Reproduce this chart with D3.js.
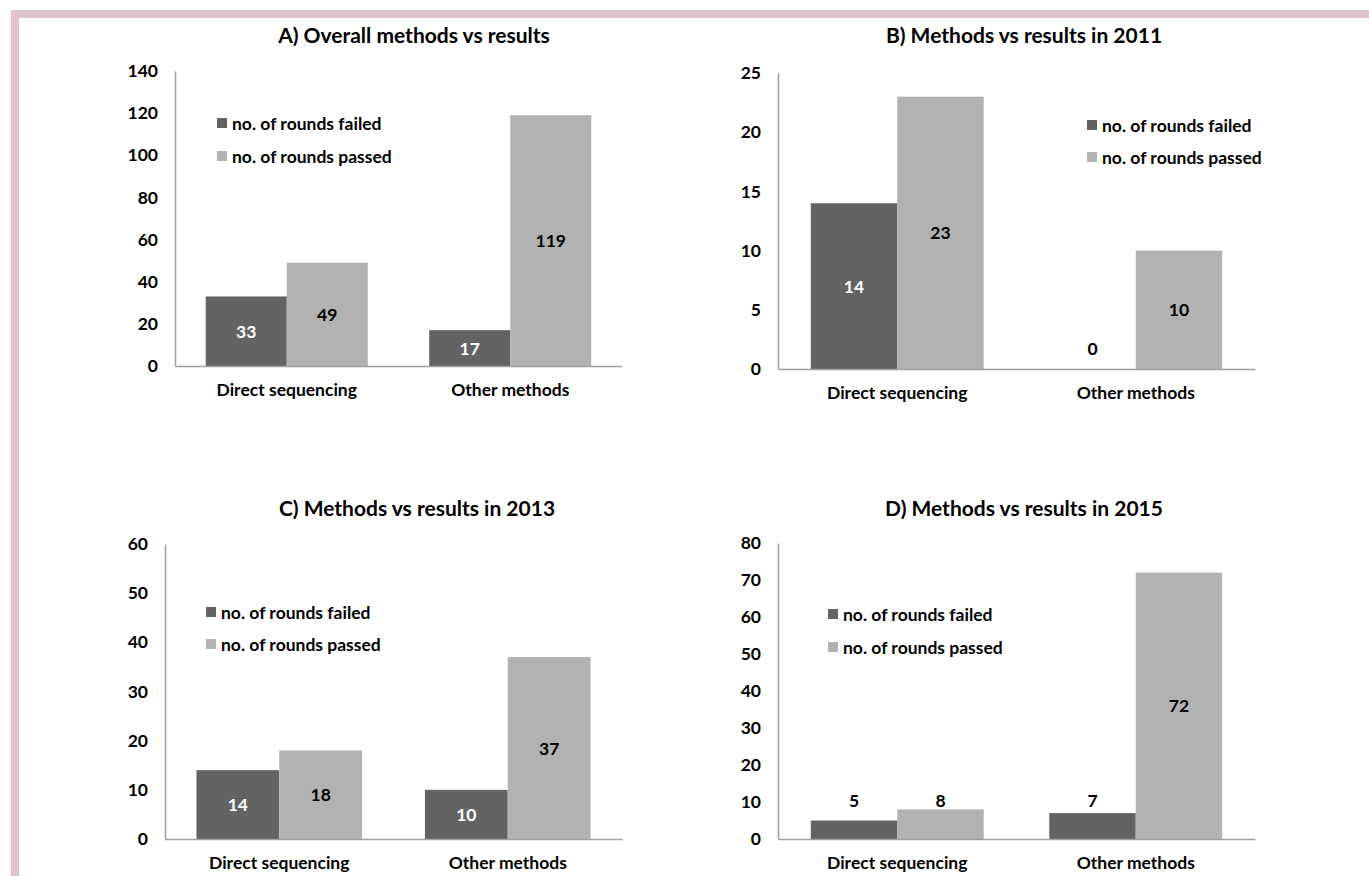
<!DOCTYPE html>
<html>
<head>
<meta charset="utf-8">
<script src="https://cdn.jsdelivr.net/npm/d3@7"></script>
<style>
  body { margin: 0; background: #fff; }
  svg text { font-family: Lato, "Open Sans", sans-serif; font-weight: bold; fill: #000; }
</style>
</head>
<body>
<div id="chart"></div>
<script>
// chart data
const categories = ["Direct sequencing", "Other methods"];
const seriesNames = ["no. of rounds failed", "no. of rounds passed"];
const titles = [
    "A) Overall methods vs results",
    "B) Methods vs results in 2011",
    "C) Methods vs results in 2013",
    "D) Methods vs results in 2015"
];
const failedA = [33, 17], passedA = [49, 119];
const failedB = [14, 0],  passedB = [23, 10];
const failedC = [14, 10], passedC = [18, 37];
const failedD = [5, 7],   passedD = [8, 72];
const yMaxes = [140, 25, 60, 80];
const ySteps = [20, 5, 10, 10];

const colors = ["#636363", "#b2b2b2"];
const fontSize = "17.5px";

// layout of each panel (pixels)
const panels = [
    {left: 175, right: 622,  top: 71,  bottom: 366, titleX: 414,  titleY: 34,  legX: 217,  legY: 123, legGap: 33},
    {left: 778, right: 1255, top: 73,  bottom: 369, titleX: 1024, titleY: 34,  legX: 1087, legY: 125, legGap: 32},
    {left: 165, right: 622,  top: 544, bottom: 839, titleX: 417,  titleY: 507, legX: 206,  legY: 612, legGap: 32},
    {left: 778, right: 1255, top: 543, bottom: 839, titleX: 1024, titleY: 507, legX: 828,  legY: 614, legGap: 33}
];
const series = [[failedA, passedA], [failedB, passedB], [failedC, passedC], [failedD, passedD]];

const svg = d3.select("#chart").append("svg")
    .attr("width", 1369)
    .attr("height", 876);

// pink frame on top and left
svg.append("rect").attr("x", 11).attr("y", 10).attr("width", 1358).attr("height", 8).attr("fill", "#dfc4cb");
svg.append("rect").attr("x", 11).attr("y", 10).attr("width", 8).attr("height", 866).attr("fill", "#dfc4cb");

panels.forEach((p, i) => drawPanel(p, i));

function drawPanel(p, i) {
    const [failed, passed] = series[i];
    const rows = categories.map((c, j) => ({cat: c, values: [failed[j], passed[j]]}));

    const x0 = d3.scaleBand().domain(categories)
        .range([p.left, p.right])
        .paddingInner(0.275).paddingOuter(0.1375);
    const x1 = d3.scaleBand().domain([0, 1]).range([0, x0.bandwidth()]);
    const y = d3.scaleLinear().domain([0, yMaxes[i]]).range([p.bottom, p.top]);

    const g = svg.append("g");

    g.append("text")
        .attr("x", p.titleX).attr("y", p.titleY)
        .attr("text-anchor", "middle")
        .attr("dominant-baseline", "central")
        .style("font-size", "21px")
        .text(titles[i]);

    // bars
    const grp = g.selectAll(".grp").data(rows).enter().append("g")
        .attr("transform", d => `translate(${x0(d.cat)},0)`);

    grp.selectAll("rect").data(d => d.values).enter().append("rect")
        .attr("x", (d, k) => x1(k))
        .attr("y", d => y(d))
        .attr("width", x1.bandwidth())
        .attr("height", d => y(0) - y(d))
        .attr("fill", (d, k) => colors[k]);

    // labels: centred in the bar when it fits, otherwise above
    const fits = v => y(0) - y(v) >= 32;
    const small = rows.flatMap(r => r.values).filter(v => !fits(v));
    const aboveBase = Math.min(y(d3.max(small) || 0) - 2, y(0) - 14);

    grp.selectAll(".lbl").data(d => d.values).enter().append("text")
        .attr("class", "lbl")
        .attr("x", (d, k) => x1(k) + x1.bandwidth() / 2)
        .attr("y", d => fits(d) ? (y(d) + y(0)) / 2 : aboveBase)
        .attr("dominant-baseline", d => fits(d) ? "central" : "auto")
        .attr("text-anchor", "middle")
        .style("font-size", fontSize)
        .style("fill", (d, k) => (fits(d) && k === 0) ? "#fff" : "#000")
        .text(d => d);

    // axes
    const yAxis = g.append("g")
        .attr("transform", `translate(${p.left},0)`)
        .call(d3.axisLeft(y).tickValues(d3.range(0, yMaxes[i] + 0.001, ySteps[i]))
            .tickSize(0).tickPadding(17));
    const xAxis = g.append("g")
        .attr("transform", `translate(0,${p.bottom})`)
        .call(d3.axisBottom(x0).tickSize(0).tickPadding(18));

    [yAxis, xAxis].forEach(a => {
        a.select(".domain").attr("stroke", "#a0a0a0").attr("stroke-width", 1.5);
        a.selectAll("text").style("font-size", fontSize).attr("fill", "#000");
    });

    // legend
    const leg = g.selectAll(".leg").data(seriesNames).enter().append("g")
        .attr("transform", (d, k) => `translate(${p.legX},${p.legY + k * p.legGap})`);
    leg.append("rect").attr("x", 0).attr("y", -5).attr("width", 10).attr("height", 10)
        .attr("fill", (d, k) => colors[k]);
    leg.append("text").attr("x", 15).attr("y", 0)
        .attr("dominant-baseline", "central")
        .style("font-size", fontSize)
        .text(d => d);
}
</script>
</body>
</html>
